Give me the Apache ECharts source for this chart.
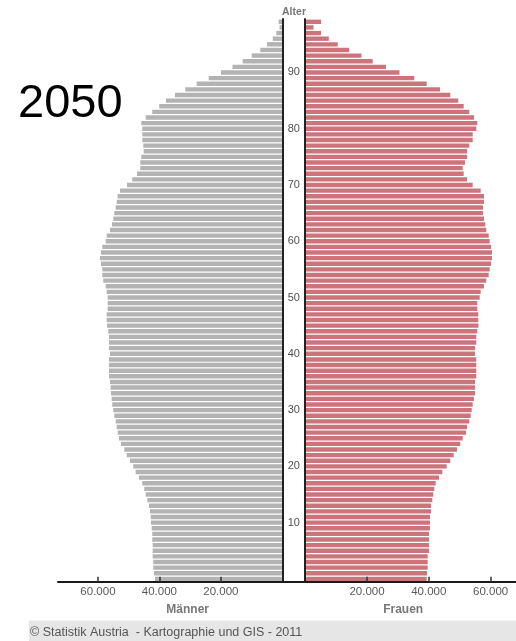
<!DOCTYPE html>
<html>
<head>
<meta charset="utf-8">
<script src="https://cdn.jsdelivr.net/npm/echarts@6/dist/echarts.min.js"></script>
<style>
html,body{margin:0;padding:0;background:#fff;}
#c{width:516px;height:641px;}
</style>
</head>
<body>
<div id="c"></div>
<script>
// Age groups 0..99 (bottom to top)
const ages = [];
for (let i = 0; i < 100; i++) ages.push(String(i));

// Männer (men), index = age
const men = [
41440,41760,41990,41990,42180,42180,42180,42320,42320,42510,
42740,42840,43060,43390,43940,44460,44920,45570,46640,47720,
48500,49570,50650,51430,52500,53150,53580,53900,54230,54680,
55010,55340,55530,55760,55860,56080,56410,56410,56410,56410,
56080,56410,56410,56410,56640,57060,57160,57160,56830,56830,
56830,57160,57480,58260,58590,58590,59010,59340,59010,58590,
57480,57160,56080,55430,55010,54680,54230,53900,53580,52830,
50550,48830,47300,46220,46220,45900,45110,45240,45570,45570,
45570,45900,44460,42320,40040,37860,34930,31570,27860,23960,
19950,16210,12890,9960,7160,4950,3090,1950,900,1200
];

// Frauen (women), index = age
const women = [
39320,39410,39640,39640,39640,40060,40060,40060,40060,40390,
40390,40390,40710,40710,41130,41450,41780,42230,43300,44370,
45790,46950,48050,49120,50190,50970,52030,52360,53100,53560,
53880,54200,54620,54950,54950,54950,55370,55370,55370,55370,
54950,54950,55370,55370,55690,56080,56020,56020,55690,55690,
56470,56790,57860,58600,59380,59700,60130,60450,60450,60130,
59700,59380,58600,58280,57860,57540,57540,57860,57860,56790,
54200,52360,51290,50970,51710,52360,52360,53100,54200,54200,
55370,55690,54620,53100,51290,49540,46950,43620,39320,35300,
30510,26150,21840,18220,14240,10520,7640,5110,2690,5110
];

const tickValues = [20000, 40000, 60000];
const yearLabel = '2050';
const ageTitle = 'Alter';
const menLabel = 'Männer';
const womenLabel = 'Frauen';
const footerText = '© Statistik Austria  - Kartographie und GIS - 2011';

const FONT = '"Liberation Sans", Arial, Helvetica, sans-serif';
const fmt = v => String(v / 1000) + '.000';

const chart = echarts.init(document.getElementById('c'), null, {renderer: 'canvas'});

const xCommon = {
  type: 'value',
  min: 0,
  splitLine: {show: false},
  axisLine: {show: true, onZero: false, lineStyle: {color: '#1a1a1a', width: 2}},
  axisTick: {show: true, inside: true, length: 5, customValues: tickValues,
             lineStyle: {color: '#333', width: 1.5}},
  axisLabel: {show: true, customValues: tickValues, formatter: fmt, margin: 4,
              color: '#5a5a5a', fontSize: 11.5, fontFamily: FONT},
  z: 5
};

chart.setOption({
  animation: false,
  backgroundColor: '#fff',
  grid: [
    {left: 58, top: 19, width: 224.3, height: 562.7, containLabel: false},
    {left: 305.2, top: 19, right: 0, height: 562.7, containLabel: false},
    {left: 282.3, top: 19, width: 22.9, height: 562.7, containLabel: false}
  ],
  xAxis: [
    Object.assign({}, xCommon, {gridIndex: 0, inverse: true, max: 73000}),
    Object.assign({}, xCommon, {gridIndex: 1, max: 68220}),
    {gridIndex: 2, type: 'value', min: 0, max: 1, splitLine: {show: false},
     axisLine: {show: true, onZero: false, lineStyle: {color: '#1a1a1a', width: 2}},
     axisTick: {show: false}, axisLabel: {show: false}, z: 5}
  ],
  yAxis: [
    {gridIndex: 0, type: 'category', data: ages, position: 'right',
     axisLine: {show: true, onZero: false, lineStyle: {color: '#222', width: 2}},
     axisTick: {show: false}, splitLine: {show: false},
     axisLabel: {show: true, interval: (i) => i > 0 && i % 10 === 0,
                 align: 'center', margin: 11.5, color: '#505050', fontSize: 11, fontFamily: FONT,
                 padding: [3, 0, 0, 0]},
     z: 5},
    {gridIndex: 1, type: 'category', data: ages, position: 'left',
     axisLine: {show: true, onZero: false, lineStyle: {color: '#222', width: 2}},
     axisTick: {show: false}, splitLine: {show: false}, axisLabel: {show: false}, z: 5},
    {gridIndex: 2, type: 'category', data: ages, show: false}
  ],
  series: [
    {name: menLabel, type: 'bar', xAxisIndex: 0, yAxisIndex: 0, data: men,
     barCategoryGap: '22%', itemStyle: {color: '#b3b3b3'}, silent: true},
    {name: womenLabel, type: 'bar', xAxisIndex: 1, yAxisIndex: 1, data: women,
     barCategoryGap: '22%', itemStyle: {color: '#cc737c'}, silent: true}
  ],
  graphic: [
    {type: 'rect', shape: {x: 29, y: 620.5, width: 487, height: 21}, style: {fill: '#e6e6e6'}, silent: true},
    {type: 'text', x: 30, y: 632.5, silent: true,
     style: {text: footerText, fill: '#555', font: '12.5px ' + FONT, align: 'left', verticalAlign: 'middle'}},
    {type: 'text', x: 18, y: 104.5, silent: true,
     style: {text: yearLabel, fill: '#000', font: '47px ' + FONT, align: 'left', verticalAlign: 'middle'}},
    {type: 'text', x: 294, y: 11.7, silent: true,
     style: {text: ageTitle, fill: '#777', font: 'bold 10.5px ' + FONT, align: 'center', verticalAlign: 'middle'}},
    {type: 'text', x: 187.7, y: 610, silent: true,
     style: {text: menLabel, fill: '#777', font: 'bold 12px ' + FONT, align: 'center', verticalAlign: 'middle'}},
    {type: 'text', x: 403.2, y: 610, silent: true,
     style: {text: womenLabel, fill: '#777', font: 'bold 12px ' + FONT, align: 'center', verticalAlign: 'middle'}}
  ]
});
</script>
</body>
</html>
